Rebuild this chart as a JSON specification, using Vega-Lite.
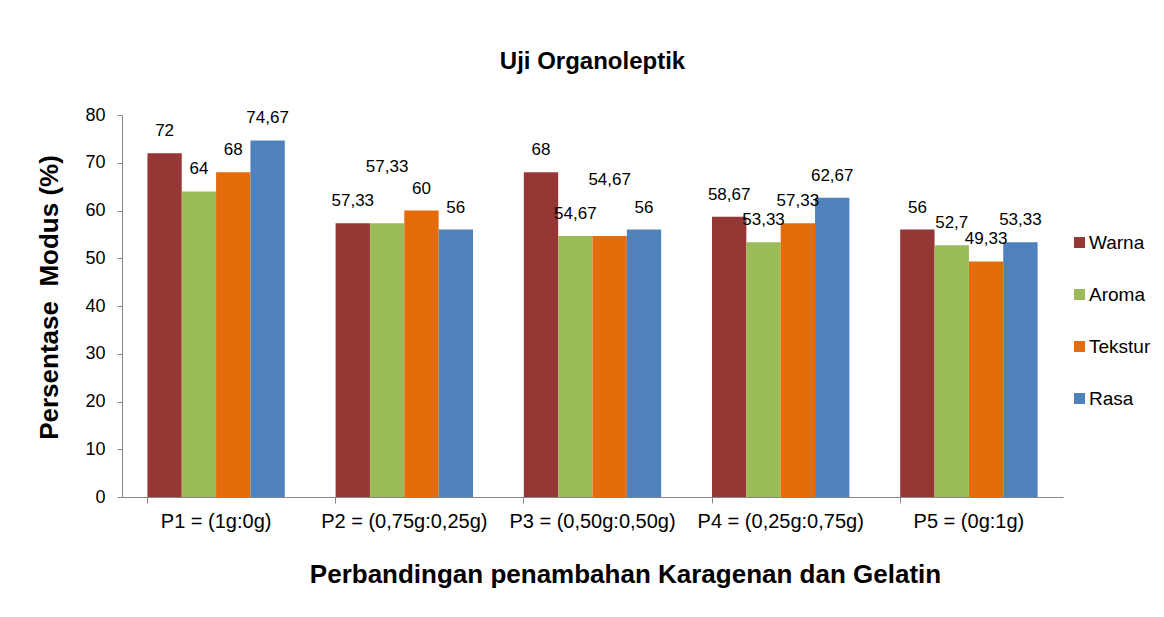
{
  "$schema": "https://vega.github.io/schema/vega-lite/v6.json",
  "width": 941,
  "height": 382,
  "autosize": {"type": "none"},
  "padding": {"left": 122, "top": 115, "right": 101, "bottom": 120},
  "background": "white",
  "config": {
    "font": "Liberation Sans",
    "view": {"stroke": null},
    "locale": {"number": {"decimal": ",", "thousands": ".", "grouping": [3], "currency": ["", ""]}}
  },
  "title": {
    "text": "Uji Organoleptik",
    "fontSize": 24,
    "fontWeight": "bold",
    "font": "Liberation Sans",
    "color": "black",
    "anchor": "middle",
    "offset": 32
  },
  "data": {
    "values": [
      {"kategori": "P1 = (1g:0g)", "parameter": "Warna", "nilai": 72},
      {"kategori": "P1 = (1g:0g)", "parameter": "Aroma", "nilai": 64},
      {"kategori": "P1 = (1g:0g)", "parameter": "Tekstur", "nilai": 68},
      {"kategori": "P1 = (1g:0g)", "parameter": "Rasa", "nilai": 74.67},
      {"kategori": "P2 = (0,75g:0,25g)", "parameter": "Warna", "nilai": 57.33},
      {"kategori": "P2 = (0,75g:0,25g)", "parameter": "Aroma", "nilai": 57.33},
      {"kategori": "P2 = (0,75g:0,25g)", "parameter": "Tekstur", "nilai": 60},
      {"kategori": "P2 = (0,75g:0,25g)", "parameter": "Rasa", "nilai": 56},
      {"kategori": "P3 = (0,50g:0,50g)", "parameter": "Warna", "nilai": 68},
      {"kategori": "P3 = (0,50g:0,50g)", "parameter": "Aroma", "nilai": 54.67},
      {"kategori": "P3 = (0,50g:0,50g)", "parameter": "Tekstur", "nilai": 54.67},
      {"kategori": "P3 = (0,50g:0,50g)", "parameter": "Rasa", "nilai": 56},
      {"kategori": "P4 = (0,25g:0,75g)", "parameter": "Warna", "nilai": 58.67},
      {"kategori": "P4 = (0,25g:0,75g)", "parameter": "Aroma", "nilai": 53.33},
      {"kategori": "P4 = (0,25g:0,75g)", "parameter": "Tekstur", "nilai": 57.33},
      {"kategori": "P4 = (0,25g:0,75g)", "parameter": "Rasa", "nilai": 62.67},
      {"kategori": "P5 = (0g:1g)", "parameter": "Warna", "nilai": 56},
      {"kategori": "P5 = (0g:1g)", "parameter": "Aroma", "nilai": 52.7},
      {"kategori": "P5 = (0g:1g)", "parameter": "Tekstur", "nilai": 49.33},
      {"kategori": "P5 = (0g:1g)", "parameter": "Rasa", "nilai": 53.33}
    ]
  },
  "encoding": {
    "x": {
      "field": "kategori",
      "type": "nominal",
      "sort": null,
      "scale": {"paddingInner": 0.27, "paddingOuter": 0.135},
      "axis": {
        "title": "Perbandingan penambahan Karagenan dan Gelatin",
        "titleFontSize": 26,
        "titleFontWeight": "bold",
        "titleColor": "black",
        "titlePadding": 30,
        "titleX": 503,
        "labelAngle": 0,
        "labelFontSize": 20,
        "labelColor": "black",
        "labelPadding": 8,
        "bandPosition": 0,
        "tickSize": 6,
        "domainColor": "#868686",
        "tickColor": "#868686",
        "grid": false
      }
    },
    "xOffset": {"field": "parameter", "type": "nominal", "sort": ["Warna", "Aroma", "Tekstur", "Rasa"], "scale": {"paddingInner": 0, "paddingOuter": 0}},
    "y": {
      "field": "nilai",
      "type": "quantitative",
      "scale": {"domain": [0, 80]},
      "axis": {
        "title": "Persentase \u00a0Modus (%)",
        "titleFontSize": 26,
        "titleFontWeight": "bold",
        "titleColor": "black",
        "titlePadding": 22,
        "titleY": 182,
        "values": [0, 10, 20, 30, 40, 50, 60, 70, 80],
        "labelFontSize": 18,
        "labelColor": "black",
        "labelPadding": 12,
        "tickSize": 5,
        "domainColor": "#868686",
        "tickColor": "#868686",
        "grid": false
      }
    }
  },
  "layer": [
    {
      "mark": {"type": "bar"},
      "encoding": {
        "color": {
          "field": "parameter",
          "type": "nominal",
          "sort": ["Warna", "Aroma", "Tekstur", "Rasa"],
          "scale": {"domain": ["Warna", "Aroma", "Tekstur", "Rasa"], "range": ["#953735", "#9BBB59", "#E46C0A", "#4F81BD"]},
          "legend": {
            "title": null,
            "orient": "none",
            "legendX": 948,
            "legendY": 118,
            "symbolType": "square",
            "symbolSize": 121,
            "symbolStrokeWidth": 0,
            "labelFontSize": 19,
            "labelColor": "black",
            "labelOffset": 0,
            "rowPadding": 32
          }
        }
      }
    },
    {
      "transform": [
        {"window": [{"op": "row_number", "as": "urutanSama"}], "groupby": ["kategori", "nilai"]},
        {"filter": "datum.urutanSama == 1"}
      ],
      "mark": {"type": "text", "baseline": "bottom", "dy": -13, "fontSize": 17, "color": "black"},
      "encoding": {
        "text": {"field": "nilai", "type": "quantitative", "format": "~f"}
      }
    },
    {
      "transform": [
        {"window": [{"op": "row_number", "as": "urutanSama"}], "groupby": ["kategori", "nilai"]},
        {"filter": "datum.urutanSama > 1"}
      ],
      "mark": {"type": "text", "baseline": "bottom", "dy": -47, "fontSize": 17, "color": "black"},
      "encoding": {
        "text": {"field": "nilai", "type": "quantitative", "format": "~f"}
      }
    }
  ]
}
